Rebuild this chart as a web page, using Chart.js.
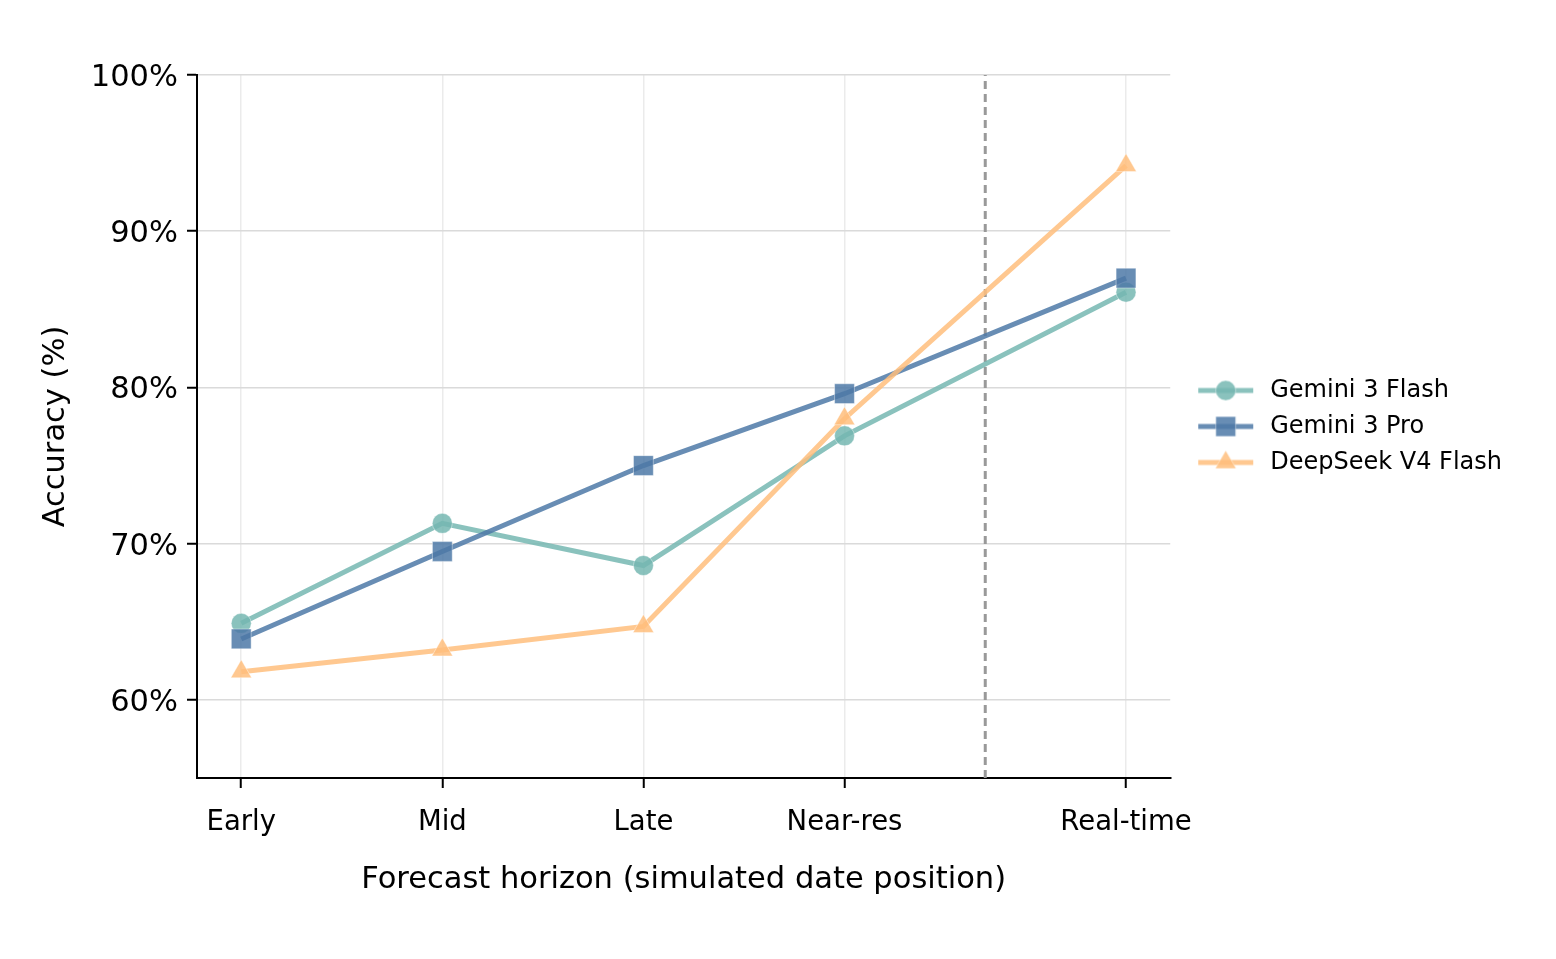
<!DOCTYPE html>
<html>
<head>
<meta charset="utf-8">
<script src="https://cdn.jsdelivr.net/npm/chart.js@4.4.1/dist/chart.umd.min.js"></script>
<style>
  html, body { margin: 0; padding: 0; background: #fff; }
</style>
</head>
<body>
<canvas id="horizonChart" width="1556" height="959"></canvas>
<script>
// Forecast horizon positions (Real-time sits further out on the axis)
const horizonLabels = ['Early', 'Mid', 'Late', 'Near-res', 'Real-time'];
const horizonPositions = [0, 1, 2, 3, 4.4];
const cutoffPosition = 3.7;

// Accuracy per model (%)
const gemini3Flash = [64.9, 71.3, 68.6, 76.9, 86.1];
const gemini3Pro = [63.9, 69.5, 75.0, 79.6, 87.0];
const deepseekV4Flash = [61.8, 63.2, 64.7, 78.0, 94.2];

const yTicks = [60, 70, 80, 90, 100];

const FLASH_COLOR = 'rgba(118, 183, 178, 0.85)';
const PRO_COLOR = 'rgba(78, 121, 167, 0.85)';
const DEEPSEEK_COLOR = 'rgba(255, 190, 125, 0.85)';

Chart.defaults.font.family = "'DejaVu Sans', sans-serif";
Chart.defaults.color = '#000000';

function toPoints(values) {
  return values.map((v, i) => ({ x: horizonPositions[i], y: v }));
}

// Small line + marker icon for the legend, like matplotlib's handles
function makeLegendIcon(color, pointStyle, radius) {
  const icon = document.createElement('canvas');
  icon.width = 76;
  icon.height = 30;
  const c = icon.getContext('2d');
  c.strokeStyle = color;
  c.lineWidth = 5;
  c.beginPath();
  c.moveTo(16, 15);
  c.lineTo(71, 15);
  c.stroke();
  c.fillStyle = color;
  c.strokeStyle = 'rgba(255, 255, 255, 0.4)';
  c.lineWidth = 1;
  Chart.helpers.drawPoint(c, { pointStyle: pointStyle, radius: radius, rotation: 0, borderWidth: 1 }, 43.5, 15);
  return icon;
}

const seriesDefs = [
  { label: 'Gemini 3 Flash', values: gemini3Flash, color: FLASH_COLOR, style: 'circle', radius: 10, order: 3 },
  { label: 'Gemini 3 Pro', values: gemini3Pro, color: PRO_COLOR, style: 'rect', radius: 14, order: 2 },
  { label: 'DeepSeek V4 Flash', values: deepseekV4Flash, color: DEEPSEEK_COLOR, style: 'triangle', radius: 12, order: 1 }
];

const legendIcons = seriesDefs.map(s => makeLegendIcon(s.color, s.style, s.radius));

// Dashed marker for the simulated "now"
const cutoffLine = {
  id: 'cutoffLine',
  beforeDatasetsDraw(chart) {
    const { ctx, chartArea, scales } = chart;
    const x = scales.x.getPixelForValue(cutoffPosition);
    ctx.save();
    ctx.strokeStyle = '#999999';
    ctx.lineWidth = 3;
    ctx.setLineDash([8, 5]);
    ctx.beginPath();
    ctx.moveTo(x, chartArea.bottom);
    ctx.lineTo(x, chartArea.top);
    ctx.stroke();
    ctx.restore();
  }
};

new Chart(document.getElementById('horizonChart'), {
  type: 'line',
  data: {
    datasets: seriesDefs.map(s => ({
      label: s.label,
      data: toPoints(s.values),
      borderColor: s.color,
      backgroundColor: s.color,
      borderWidth: 5,
      tension: 0,
      fill: false,
      pointStyle: s.style,
      pointRadius: s.radius,
      pointHoverRadius: s.radius,
      pointBackgroundColor: s.color,
      pointBorderColor: 'rgba(255, 255, 255, 0.4)',
      pointBorderWidth: 1,
      order: s.order
    }))
  },
  options: {
    responsive: false,
    animation: false,
    devicePixelRatio: 1,
    layout: { padding: { left: 0, top: 75, right: 44, bottom: 0 } },
    plugins: {
      tooltip: { enabled: false },
      legend: {
        position: 'right',
        align: 'center',
        fullSize: false,
        labels: {
          font: { size: 24 },
          padding: 12,
          usePointStyle: true,
          pointStyleWidth: 76,
          boxHeight: 24,
          generateLabels: () => seriesDefs.map((s, i) => ({
            text: s.label,
            pointStyle: legendIcons[i],
            fillStyle: s.color,
            strokeStyle: s.color,
            lineWidth: 0,
            fontColor: '#000000',
            hidden: false,
            datasetIndex: i
          }))
        }
      }
    },
    scales: {
      x: {
        type: 'linear',
        min: -0.22,
        max: 4.62,
        afterBuildTicks: scale => { scale.ticks = horizonPositions.map(v => ({ value: v })); },
        afterFit: scale => { scale.height = 181; },
        ticks: {
          autoSkip: false,
          maxRotation: 0,
          padding: 18,
          font: { size: 27.5 },
          callback: value => horizonLabels[horizonPositions.indexOf(value)]
        },
        grid: {
          color: '#ebebeb',
          lineWidth: 1.5,
          tickColor: '#000000',
          tickLength: 10,
          tickWidth: 2
        },
        border: { color: '#000000', width: 2 },
        title: {
          display: true,
          text: 'Forecast horizon (simulated date position)',
          font: { size: 30.5 },
          padding: { top: 0, bottom: 61 }
        }
      },
      y: {
        type: 'linear',
        min: 55,
        max: 100,
        afterBuildTicks: scale => { scale.ticks = yTicks.map(v => ({ value: v })); },
        afterFit: scale => { scale.width = 197; },
        ticks: {
          padding: 9,
          labelOffset: 3,
          font: { size: 30.5 },
          callback: value => value + '%'
        },
        grid: {
          color: '#dadada',
          lineWidth: 1.5,
          tickColor: '#000000',
          tickLength: 10,
          tickWidth: 2
        },
        border: { color: '#000000', width: 2 },
        title: {
          display: true,
          text: 'Accuracy (%)',
          font: { size: 30.5 },
          padding: { top: 38, bottom: 0 }
        }
      }
    }
  },
  plugins: [cutoffLine]
});
</script>
</body>
</html>
